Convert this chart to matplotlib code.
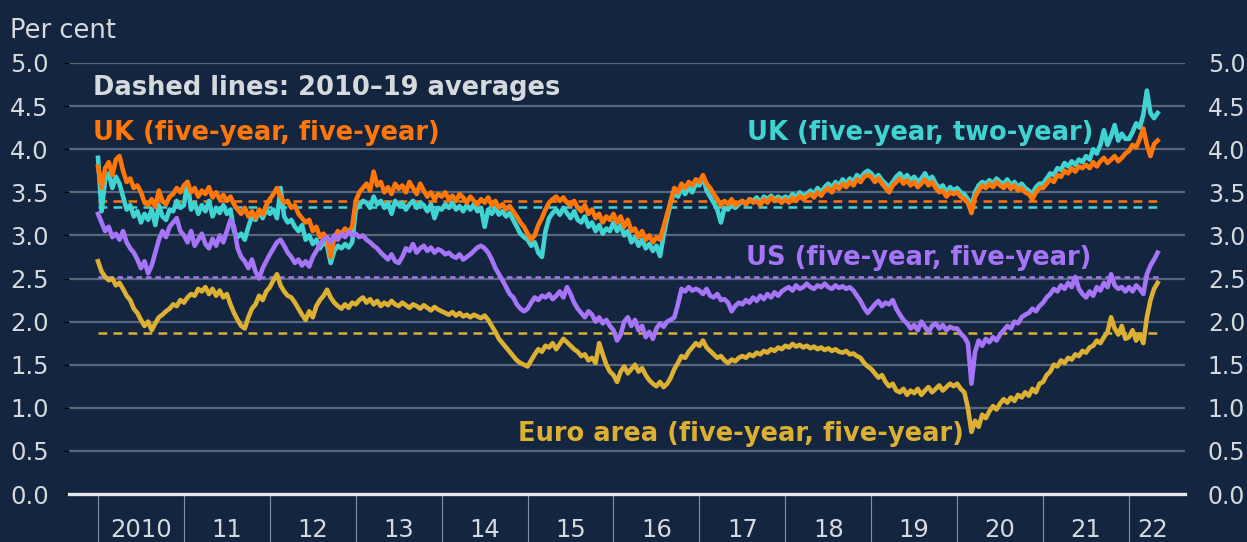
import numpy as np
import matplotlib
matplotlib.use("Agg")
import matplotlib.pyplot as plt

# semi-monthly readings, one row per year (2010 ... 2022)
uk_5y5y = [
    3.80, 3.55, 3.78, 3.85, 3.70, 3.88, 3.92, 3.75, 3.62, 3.66, 3.55, 3.58, 3.50, 3.38, 3.35, 3.42, 3.33, 3.52, 3.40, 3.36, 3.45, 3.48, 3.55, 3.50,
    3.58, 3.62, 3.50, 3.55, 3.45, 3.52, 3.48, 3.56, 3.44, 3.50, 3.42, 3.47, 3.40, 3.45, 3.36, 3.30, 3.25, 3.32, 3.22, 3.28, 3.20, 3.30, 3.24, 3.35,
    3.42, 3.48, 3.55, 3.45, 3.38, 3.40, 3.32, 3.35, 3.25, 3.20, 3.15, 3.18, 3.05, 3.10, 2.98, 3.02, 2.95, 2.75, 2.98, 3.05, 3.02, 3.08, 3.04, 3.10,
    3.40, 3.50, 3.55, 3.60, 3.52, 3.74, 3.58, 3.62, 3.50, 3.56, 3.48, 3.60, 3.54, 3.58, 3.50, 3.62, 3.55, 3.48, 3.60, 3.52, 3.45, 3.50, 3.42, 3.48,
    3.45, 3.50, 3.42, 3.46, 3.40, 3.48, 3.44, 3.38, 3.45, 3.40, 3.36, 3.42, 3.38, 3.44, 3.35, 3.40, 3.32, 3.36, 3.30, 3.34, 3.28, 3.22, 3.15, 3.10,
    3.02, 2.95, 3.00, 3.12, 3.20, 3.30, 3.38, 3.42, 3.45, 3.40, 3.44, 3.38, 3.35, 3.40, 3.32, 3.28, 3.35, 3.25, 3.30, 3.20, 3.25, 3.15, 3.22, 3.18,
    3.25, 3.15, 3.22, 3.10, 3.18, 3.05, 3.08, 2.98, 3.05, 2.95, 3.00, 2.92, 2.98, 2.95, 3.10, 3.25, 3.40, 3.55, 3.50, 3.60, 3.55, 3.62, 3.58, 3.65,
    3.62, 3.70, 3.60, 3.55, 3.48, 3.42, 3.35, 3.40, 3.36, 3.42, 3.35, 3.38, 3.40, 3.36, 3.42, 3.38, 3.40, 3.35, 3.42, 3.38, 3.44, 3.40, 3.42, 3.38,
    3.42, 3.38, 3.44, 3.40, 3.46, 3.42, 3.45, 3.48, 3.44, 3.50, 3.46, 3.52, 3.55, 3.50, 3.58, 3.54, 3.60, 3.56, 3.62, 3.58, 3.65, 3.62, 3.68, 3.70,
    3.68, 3.62, 3.66, 3.60, 3.55, 3.50, 3.58, 3.62, 3.66, 3.60, 3.64, 3.58, 3.62, 3.56, 3.60, 3.65, 3.58, 3.62, 3.55, 3.50, 3.52, 3.45, 3.50, 3.48,
    3.50, 3.45, 3.42, 3.38, 3.26, 3.45, 3.52, 3.58, 3.55, 3.60, 3.56, 3.62, 3.58, 3.55, 3.60, 3.54, 3.58, 3.52, 3.55, 3.50, 3.48, 3.42, 3.50, 3.55,
    3.55, 3.60, 3.65, 3.62, 3.70, 3.68, 3.75, 3.72, 3.78, 3.74, 3.80, 3.78, 3.82, 3.78, 3.85, 3.80, 3.86, 3.90, 3.84, 3.88, 3.92, 3.86, 3.90, 3.95,
    3.98, 4.05, 4.02, 4.12, 4.24, 4.05, 3.92, 4.06, 4.10,
]
uk_5y2y = [
    3.90, 3.28, 3.65, 3.72, 3.55, 3.68, 3.60, 3.45, 3.30, 3.35, 3.22, 3.28, 3.15, 3.25, 3.18, 3.30, 3.12, 3.35, 3.22, 3.18, 3.30, 3.28, 3.40, 3.32,
    3.35, 3.62, 3.30, 3.38, 3.25, 3.35, 3.28, 3.40, 3.22, 3.32, 3.26, 3.35, 3.25, 3.30, 3.05, 2.98, 3.02, 2.95, 3.10, 3.22, 3.18, 3.28, 3.20, 3.30,
    3.25, 3.30, 3.20, 3.55, 3.22, 3.15, 3.18, 3.10, 3.05, 3.12, 2.95, 3.00, 2.90, 2.95, 2.85, 2.92, 2.88, 2.68, 2.82, 2.88, 2.85, 2.90, 2.86, 2.92,
    3.30, 3.35, 3.40, 3.38, 3.32, 3.45, 3.36, 3.40, 3.32, 3.38, 3.25, 3.40, 3.35, 3.38, 3.30, 3.36, 3.40, 3.32, 3.38, 3.35, 3.28, 3.36, 3.20, 3.32,
    3.30, 3.36, 3.32, 3.38, 3.30, 3.34, 3.28, 3.35, 3.30, 3.36, 3.28, 3.32, 3.10, 3.30, 3.25, 3.32, 3.24, 3.28, 3.22, 3.26, 3.18, 3.10, 3.02, 2.98,
    2.95, 2.88, 2.92, 2.80, 2.75, 3.05, 3.20, 3.26, 3.30, 3.24, 3.32, 3.26, 3.20, 3.28, 3.18, 3.15, 3.22, 3.10, 3.15, 3.05, 3.12, 3.02, 3.08, 3.05,
    3.15, 3.05, 3.12, 3.00, 3.05, 2.92, 2.98, 2.88, 2.95, 2.85, 2.90, 2.82, 2.88, 2.76, 3.00, 3.20, 3.38, 3.50, 3.45, 3.55, 3.48, 3.56, 3.50, 3.60,
    3.58, 3.68, 3.52, 3.45, 3.38, 3.30, 3.15, 3.32, 3.30, 3.38, 3.32, 3.36, 3.40, 3.36, 3.42, 3.40, 3.44, 3.38, 3.45, 3.42, 3.46, 3.42, 3.45, 3.42,
    3.45, 3.42, 3.48, 3.44, 3.50, 3.46, 3.48, 3.52, 3.48, 3.55, 3.50, 3.56, 3.60, 3.55, 3.62, 3.58, 3.65, 3.60, 3.66, 3.62, 3.70, 3.66, 3.72, 3.75,
    3.72, 3.66, 3.70, 3.64, 3.60, 3.56, 3.62, 3.68, 3.72, 3.65, 3.70, 3.64, 3.68, 3.62, 3.66, 3.72, 3.64, 3.68, 3.60, 3.55, 3.58, 3.50, 3.56, 3.52,
    3.55, 3.50, 3.48, 3.42, 3.35, 3.50, 3.58, 3.62, 3.60, 3.64, 3.60, 3.66, 3.62, 3.60, 3.65, 3.58, 3.62, 3.56, 3.60, 3.55, 3.52, 3.48, 3.56, 3.60,
    3.60, 3.66, 3.72, 3.70, 3.78, 3.76, 3.84, 3.80, 3.86, 3.82, 3.88, 3.85, 3.92, 3.88, 4.00, 3.95, 4.05, 4.22, 4.05, 4.15, 4.28, 4.10, 4.18, 4.12,
    4.12, 4.20, 4.30, 4.25, 4.40, 4.68, 4.42, 4.36, 4.42,
]
us_5y5y = [
    3.25, 3.15, 3.05, 3.10, 2.98, 3.02, 2.95, 3.05, 2.92, 2.85, 2.80, 2.72, 2.62, 2.70, 2.56, 2.65, 2.80, 2.95, 3.05, 2.98, 3.10, 3.15, 3.20, 3.05,
    3.00, 2.92, 3.05, 2.88, 2.95, 3.02, 2.90, 2.85, 2.96, 2.88, 3.00, 2.92, 3.05, 3.18, 3.10, 2.85, 2.75, 2.70, 2.62, 2.72, 2.58, 2.50, 2.62, 2.70,
    2.78, 2.85, 2.92, 2.95, 2.88, 2.80, 2.75, 2.68, 2.72, 2.65, 2.70, 2.64, 2.75, 2.82, 2.90, 2.95, 2.98, 2.92, 3.00, 2.95, 3.02, 2.98, 3.04, 3.00,
    3.02, 2.98, 3.00, 2.95, 2.92, 2.88, 2.85, 2.80, 2.76, 2.72, 2.78, 2.70, 2.68, 2.75, 2.85, 2.82, 2.90, 2.80, 2.85, 2.88, 2.82, 2.86, 2.80, 2.84,
    2.82, 2.78, 2.80, 2.76, 2.74, 2.78, 2.72, 2.75, 2.78, 2.82, 2.86, 2.88, 2.85, 2.80, 2.72, 2.62, 2.55, 2.48, 2.40, 2.32, 2.28, 2.20, 2.15, 2.12,
    2.15, 2.22, 2.28, 2.25, 2.30, 2.28, 2.32, 2.26, 2.30, 2.35, 2.28, 2.40, 2.32, 2.22, 2.15, 2.10, 2.05, 2.12, 2.08, 2.00, 2.05, 1.98, 2.02, 1.95,
    1.90, 1.78, 1.85, 2.00, 2.05, 1.95, 2.02, 1.90, 1.95, 1.82, 1.88, 1.80, 1.92, 1.98, 1.94, 2.00, 2.02, 2.05, 2.20, 2.38, 2.35, 2.40, 2.36, 2.38,
    2.36, 2.32, 2.38, 2.30, 2.28, 2.32, 2.25, 2.26, 2.22, 2.12, 2.18, 2.22, 2.20, 2.25, 2.22, 2.28, 2.24, 2.30, 2.26, 2.32, 2.28, 2.34, 2.30, 2.35,
    2.38, 2.40, 2.36, 2.42, 2.38, 2.40, 2.44, 2.40, 2.38, 2.42, 2.40, 2.44, 2.40, 2.38, 2.42, 2.39, 2.41, 2.38, 2.40, 2.36, 2.30, 2.24, 2.16, 2.10,
    2.15, 2.20, 2.24, 2.18, 2.22, 2.20, 2.25, 2.15, 2.08, 2.02, 1.98, 1.92, 1.96, 1.90, 2.00, 1.94, 1.88, 1.95, 1.98, 1.92, 1.96, 1.90, 1.94, 1.92,
    1.92, 1.86, 1.82, 1.75, 1.28, 1.65, 1.78, 1.72, 1.80, 1.76, 1.82, 1.78, 1.85, 1.90, 1.95, 1.92, 2.00, 1.98, 2.05, 2.08, 2.10, 2.15, 2.12, 2.18,
    2.22, 2.28, 2.32, 2.38, 2.35, 2.42, 2.38, 2.45, 2.40, 2.52, 2.38, 2.32, 2.28, 2.35, 2.30, 2.40, 2.36, 2.45, 2.40, 2.55, 2.42, 2.38, 2.40, 2.35,
    2.40, 2.35, 2.42, 2.38, 2.32, 2.55, 2.65, 2.72, 2.80,
]
euro_5y5y = [
    2.70, 2.58, 2.52, 2.48, 2.50, 2.42, 2.45, 2.38, 2.30, 2.25, 2.15, 2.10, 2.02, 1.95, 2.00, 1.90, 1.98, 2.05, 2.08, 2.12, 2.15, 2.20, 2.18, 2.25,
    2.22, 2.28, 2.32, 2.30, 2.38, 2.35, 2.40, 2.32, 2.38, 2.30, 2.36, 2.28, 2.32, 2.20, 2.10, 2.02, 1.95, 1.92, 2.05, 2.15, 2.20, 2.30, 2.25, 2.35,
    2.40, 2.48, 2.55, 2.42, 2.35, 2.30, 2.28, 2.22, 2.15, 2.08, 2.02, 2.12, 2.05, 2.18, 2.25, 2.30, 2.37, 2.28, 2.22, 2.18, 2.15, 2.20, 2.16, 2.22,
    2.20, 2.25, 2.28, 2.22, 2.26, 2.20, 2.24, 2.18, 2.22, 2.19, 2.24, 2.20, 2.18, 2.22, 2.19, 2.16, 2.20, 2.18, 2.15, 2.19, 2.16, 2.13, 2.17, 2.14,
    2.12, 2.10, 2.08, 2.11, 2.07, 2.10, 2.06, 2.08, 2.05, 2.08, 2.06, 2.04, 2.07, 2.02, 1.95, 1.88, 1.80, 1.75, 1.70, 1.65, 1.60, 1.55, 1.52, 1.50,
    1.48, 1.55, 1.62, 1.68, 1.65, 1.72, 1.70, 1.75, 1.68, 1.74, 1.80, 1.76, 1.72, 1.68, 1.65, 1.60, 1.62, 1.55, 1.58, 1.52, 1.75, 1.62, 1.50, 1.42,
    1.38, 1.30, 1.42, 1.48, 1.40, 1.45, 1.50, 1.42, 1.46, 1.38, 1.32, 1.28, 1.25, 1.30, 1.24, 1.28, 1.35, 1.45, 1.52, 1.60, 1.58, 1.65, 1.70, 1.75,
    1.72, 1.78, 1.70, 1.66, 1.62, 1.58, 1.60, 1.55, 1.52, 1.56, 1.54, 1.58, 1.60, 1.58, 1.62, 1.60, 1.64, 1.62, 1.66, 1.64, 1.68, 1.66, 1.70, 1.68,
    1.72, 1.70, 1.74, 1.71, 1.73, 1.70, 1.72, 1.69, 1.71, 1.68, 1.70, 1.67, 1.69, 1.66, 1.68, 1.65, 1.64, 1.66, 1.62, 1.63, 1.60, 1.58, 1.52, 1.48,
    1.45, 1.40, 1.35, 1.38, 1.30, 1.25, 1.28, 1.20, 1.18, 1.22, 1.15, 1.20, 1.17, 1.22, 1.15, 1.20, 1.24, 1.18, 1.22, 1.26, 1.20, 1.24, 1.28, 1.25,
    1.28, 1.22, 1.18, 1.00, 0.72, 0.85, 0.78, 0.92, 0.88, 0.96, 1.02, 0.98, 1.05, 1.10, 1.06, 1.12, 1.08, 1.15, 1.12, 1.18, 1.14, 1.22, 1.18, 1.28,
    1.30, 1.38, 1.42, 1.50, 1.48, 1.55, 1.52, 1.58, 1.56, 1.62, 1.60, 1.66, 1.64, 1.70, 1.72, 1.78, 1.75, 1.82, 1.88, 2.05, 1.92, 1.85, 1.95, 1.80,
    1.82, 1.90, 1.78, 1.85, 1.75, 2.05, 2.25, 2.38, 2.45,
]

# 2010-19 averages (dashed lines)
avg_uk_5y5y = 3.40
avg_uk_5y2y = 3.33
avg_us = 2.52
avg_euro = 1.87

years = list(range(2010, 2023))
year_labels = ["2010", "11", "12", "13", "14", "15", "16", "17", "18", "19", "20", "21", "22"]

BG = "#14253f"
GRID = "#58677c"
TXT = "#d6d9de"
ORANGE = "#ff7708"
CYAN = "#3fd4d2"
PURPLE = "#a574f7"
GOLD = "#dcb033"

plt.rcParams["font.family"] = ["DejaVu Sans"]

fig = plt.figure(figsize=(12.47, 5.42), dpi=100, facecolor=BG)
W, H = 1247, 542
ax = fig.add_axes([69 / W, 1 - 494 / H, (1185 - 69) / W, (494 - 63) / H])
ax.set_facecolor(BG)


def tt(series):
    return 2010 + np.arange(len(series)) / 24.0


t_end = tt(uk_5y5y)[-1]

# dashed averages
ax.plot([2010, t_end], [avg_euro] * 2, color=GOLD, lw=1.8, ls=(0, (3.5, 2.5)), zorder=3)
ax.plot([2010, t_end], [avg_us] * 2, color=PURPLE, lw=1.8, ls=(0, (2.2, 1.6)), zorder=3)
ax.plot([2010, t_end], [avg_uk_5y2y] * 2, color=CYAN, lw=1.8, ls=(0, (3.5, 2.5)), zorder=3)
ax.plot([2010, t_end], [avg_uk_5y5y] * 2, color=ORANGE, lw=1.8, ls=(0, (3.5, 2.5)), zorder=3)

lw = 3.3
ax.plot(tt(euro_5y5y), euro_5y5y, color=GOLD, lw=lw, zorder=4, solid_joinstyle="round")
ax.plot(tt(uk_5y2y), uk_5y2y, color=CYAN, lw=lw, zorder=4, solid_joinstyle="round")
ax.plot(tt(uk_5y5y), uk_5y5y, color=ORANGE, lw=lw, zorder=5, solid_joinstyle="round")
ax.plot(tt(us_5y5y), us_5y5y, color=PURPLE, lw=lw, zorder=5, solid_joinstyle="round")

ax.set_xlim(2010 - 29 / 85.9, 2022 + 56 / 85.9)
ax.set_ylim(0, 5)
yt = np.arange(0, 5.01, 0.5)
ylabs = [f"{v:.1f}" for v in yt]
ax.set_yticks(yt)
ax.set_yticklabels(ylabs)
for v in yt[1:]:
    ax.axhline(v, color=GRID, lw=1.6, zorder=1)
ax.axhline(0, color="#e4e8ee", lw=2.4, zorder=6, clip_on=False)

for s in ax.spines.values():
    s.set_visible(False)

ax.tick_params(axis="y", which="both", left=False, right=False, labelleft=True,
               labelright=False, labelsize=17.5, labelcolor=TXT, pad=11)

# right-hand scale
axr = ax.twinx()
axr.set_ylim(0, 5)
axr.set_yticks(yt)
axr.set_yticklabels(ylabs)
for s in axr.spines.values():
    s.set_visible(False)
axr.tick_params(axis="y", right=False, labelsize=17, labelcolor=TXT, pad=13)

ax.set_xticks(years)
ax.set_xticklabels([])
mids = [y + 0.5 for y in years[:-1]] + [2022.28]
ax.set_xticks(mids, minor=True)
ax.set_xticklabels(year_labels, minor=True)
ax.tick_params(axis="x", which="major", direction="out", length=35, width=0.8,
               color="#8793a3")
ax.tick_params(axis="x", which="minor", length=0, pad=17, labelsize=17.5, labelcolor=TXT)

# text annotations
fig.text(10 / W, 1 - 38 / H, "Per cent", color=TXT, fontsize=18.5, va="baseline")
fig.text(93 / W, 1 - 95 / H, "Dashed lines: 2010\u201319 averages", color=TXT,
         fontsize=18.5, fontweight="bold", va="baseline")
fig.text(93 / W, 1 - 140 / H, "UK (five-year, five-year)", color=ORANGE,
         fontsize=18.5, fontweight="bold", va="baseline")
fig.text(1093 / W, 1 - 140 / H, "UK (five-year, two-year)", color=CYAN,
         fontsize=18.5, fontweight="bold", va="baseline", ha="right")
fig.text(1091 / W, 1 - 265 / H, "US (five-year, five-year)", color=PURPLE,
         fontsize=18.5, fontweight="bold", va="baseline", ha="right")
fig.text(518 / W, 1 - 441 / H, "Euro area (five-year, five-year)", color=GOLD,
         fontsize=18.5, fontweight="bold", va="baseline")

fig.savefig("out.png", dpi=100, facecolor=BG)
